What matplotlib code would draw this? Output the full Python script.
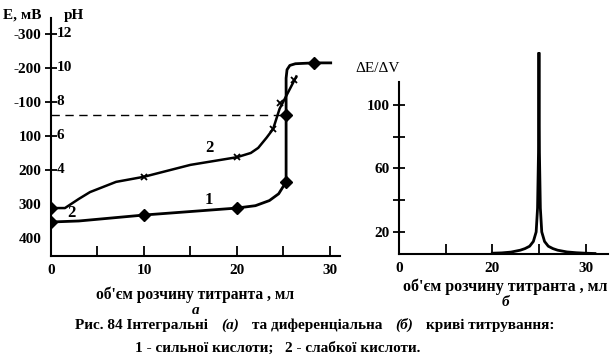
import matplotlib.pyplot as plt

plt.rcParams['font.family'] = ['Liberation Serif', 'DejaVu Serif']
plt.rcParams['font.weight'] = 'bold'

# integral curves (y in pH units)
v1 = [0, 3, 10, 20, 22, 23.5, 24.5, 25.3, 25.3, 25.3, 25.4, 25.7, 26.3, 28.3, 30.1]
ph1 = [0.94, 1.0, 1.35, 1.76, 1.9, 2.2, 2.6, 3.3, 7.24, 9.4, 9.9, 10.15, 10.25, 10.3, 10.3]
v1_marks = [0, 10, 20, 25.3, 25.3, 28.3]
ph1_marks = [0.94, 1.35, 1.76, 3.3, 7.24, 10.3]

v2 = [0, 1.5, 3, 4.2, 7, 10, 15, 20, 21.5, 22.3, 23.2, 23.9, 24.6, 26.2, 26.4]
ph2 = [1.76, 1.76, 2.3, 2.7, 3.3, 3.6, 4.3, 4.75, 5.0, 5.3, 5.9, 6.41, 7.6, 9.29, 9.5]
v2_marks = [0]
ph2_marks = [1.76]
v2_cross = [10, 20, 23.9, 24.6, 26.2]
ph2_cross = [3.6, 4.75, 6.41, 7.94, 9.29]

e_ticks = [12, 10, 8, 6, 4, 2, 0]
e_labels = ['-300', '-200', '-100', '100', '200', '300', '400']
ph_labels = ['12', '10', '8', '6', '4']

# differential curve
vd = [20, 21, 22, 23, 23.5, 24, 24.4, 24.7, 24.85, 24.95, 25.0, 25.05, 25.15, 25.3, 25.6, 26, 26.5, 27, 28, 29, 30, 31]
dedv = [6.6, 6.8, 7.3, 8.5, 9.5, 11, 14, 20, 35, 70, 133, 70, 35, 20, 14, 11, 9.5, 8.5, 7.4, 6.9, 6.6, 6.4]

xlab = "об'єм розчину титранта , мл"

fig = plt.figure(figsize=(6.14, 3.59), dpi=100)
H = 359
W = 614

ax = fig.add_axes([51/W, 1-256/H, 289/W, 238/H])
ax.plot(v1, ph1, color='black', lw=2)
ax.plot(v1_marks, ph1_marks, 'D', color='black', ms=6.5)
ax.plot(v2, ph2, color='black', lw=1.8)
ax.plot(v2_marks, ph2_marks, 'D', color='black', ms=6.5)
ax.plot(v2_cross, ph2_cross, 'x', color='black', ms=5, mew=1.3)
ax.plot([0, 25.3], [7.24, 7.24], color='black', lw=1, dashes=(6, 4))
ax.set_xlim(0, 31.1)
ax.set_ylim(-1.06, 12.94)
ax.set_xticks([0, 5, 10, 15, 20, 25, 30])
ax.set_xticklabels(['0', '', '10', '', '20', '', '30'])
ax.set_yticks(e_ticks)
ax.set_yticklabels(e_labels)
ax.tick_params(direction='inout', length=8, width=1.3, labelsize=11, pad=3)
ax.tick_params(axis='x', direction='in', length=7, pad=6)
for t in ax.yaxis.get_major_ticks()[5:]:
    t.tick1line.set_visible(False)
for i, lab in enumerate(ph_labels):
    ax.text(0.6, e_ticks[i], lab, ha='left', va='center', fontsize=11)
for s in ['top', 'right']:
    ax.spines[s].set_visible(False)
for s in ['left', 'bottom']:
    ax.spines[s].set_linewidth(1.5)
ax.text(17, 5.3, '2', fontsize=12, ha='center', va='center')
ax.text(2.2, 1.47, '2', fontsize=12, ha='center', va='center')
ax.text(17, 2.24, '1', fontsize=12, ha='center', va='center')
fig.text(195/W, 1-295/H, xlab, fontsize=11.2, ha='center', va='center')
fig.text(3/W, 1-15/H, 'E, мВ', fontsize=11, ha='left', va='center')
fig.text(64/W, 1-15/H, 'pH', fontsize=11, ha='left', va='center')
fig.text(196/W, 1-310/H, 'а', fontsize=11, style='italic', ha='center', va='center')

bx = fig.add_axes([399/W, 1-254/H, 209/W, 202/H])
bx.plot(vd, dedv, color='black', lw=2)
bx.set_xlim(10, 32.4)
bx.set_ylim(6.1, 133.4)
bx.set_xticks([10, 15, 20, 25, 30])
bx.set_xticklabels(['0', '', '20', '', '30'])
bx.set_yticks([20, 40, 60, 80, 100])
bx.set_yticklabels(['20', '', '60', '', '100'])
bx.tick_params(direction='inout', length=8, width=1.3, labelsize=11, pad=3)
bx.tick_params(axis='x', direction='in', length=7, pad=6)
for s in ['top', 'right']:
    bx.spines[s].set_visible(False)
bx.spines['left'].set_bounds(6.1, 114.5)
for s in ['left', 'bottom']:
    bx.spines[s].set_linewidth(1.5)
fig.text(505/W, 1-287/H, xlab, fontsize=11.5, ha='center', va='center')
fig.text(378/W, 1-68/H, 'ΔE/ΔV', fontsize=11, fontweight='normal', ha='center', va='center')
fig.text(505/W, 1-302/H, 'б', fontsize=11, style='italic', ha='center', va='center')

# caption, laid out piece by piece
pieces = [('Рис. 84 Інтегральні', 'normal'), ('(а)', 'italic'), ('та диференціальна', 'normal'),
          ('(б)', 'italic'), ('криві титрування:', 'normal')]
renderer = fig.canvas.get_renderer()
x = 75
for txt, st in pieces:
    t = fig.text(x/W, 1-325/H, txt, fontsize=11, style=st, ha='left', va='center')
    x += t.get_window_extent(renderer).width + 13
fig.text(135/W, 1-348/H, '1 - сильної кислоти;   2 - слабкої кислоти.', fontsize=11, ha='left', va='center')

fig.savefig('out.png', dpi=100)
